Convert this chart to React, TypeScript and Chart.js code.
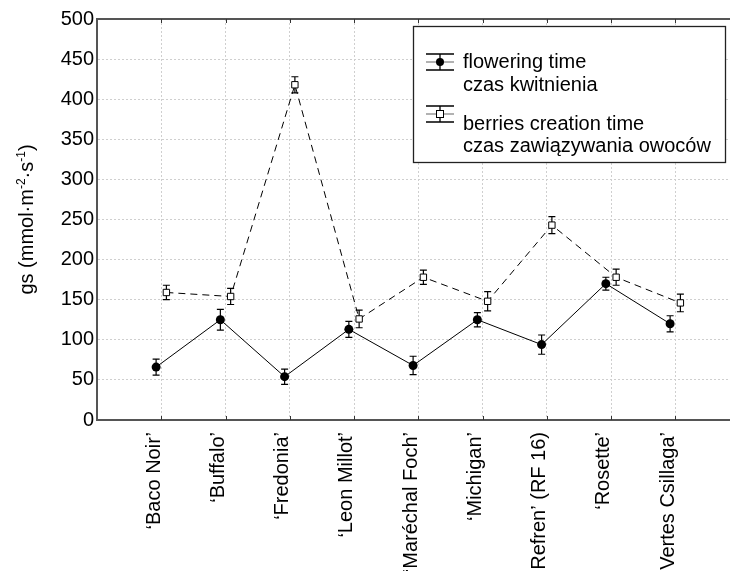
import React, { useEffect, useRef } from "react";
import { Chart, registerables } from "chart.js";

Chart.register(...registerables);

const categories = [
  "‘Baco Noir’",
  "‘Buffalo’",
  "‘Fredonia’",
  "‘Leon Millot’",
  "‘Maréchal Foch’",
  "‘Michigan’",
  "‘Refren’ (RF 16)",
  "‘Rosette’",
  "‘Vertes Csillaga’",
];
const flowering = [66, 125, 54, 113, 68, 125, 94, 170, 120];
const floweringErr = [10, 13, 9.5, 10, 11.5, 9, 12, 8, 10];
const berries = [159, 154, 418, 126, 178, 148, 243, 178, 146];
const berriesErr = [9, 10, 10, 11, 9, 12, 10.5, 10, 11];
const yTicks = [0, 50, 100, 150, 200, 250, 300, 350, 400, 450, 500];
const legendLines = [
  ["flowering time", "czas kwitnienia"],
  ["berries creation time", "czas zawiązywania owoców"],
];

const FONT = "'Liberation Sans', Arial, sans-serif";
const AXIS_COLOR = "#555555";
const LABEL_SHIFT = 0.11;

const errorBarPlugin = {
  id: "errorBars",
  beforeDatasetsDraw(chart: any) {
    const ctx = chart.ctx;
    const ys = chart.scales.y;
    chart.data.datasets.forEach((ds: any, di: number) => {
      const meta = chart.getDatasetMeta(di);
      const errs = ds.errors as number[];
      meta.data.forEach((pt: any, i: number) => {
        const v = ds.data[i].y;
        const top = ys.getPixelForValue(v + errs[i]);
        const bot = ys.getPixelForValue(v - errs[i]);
        const x = pt.x;
        ctx.save();
        ctx.strokeStyle = "#000";
        ctx.lineWidth = 1.2;
        ctx.beginPath();
        ctx.moveTo(x, top);
        ctx.lineTo(x, bot);
        ctx.moveTo(x - 3.5, top);
        ctx.lineTo(x + 3.5, top);
        ctx.moveTo(x - 3.5, bot);
        ctx.lineTo(x + 3.5, bot);
        ctx.stroke();
        ctx.restore();
      });
    });
  },
};

const framePlugin = {
  id: "frame",
  afterDraw(chart: any) {
    const ctx = chart.ctx;
    const { left, right, top, bottom } = chart.chartArea;
    const xs = chart.scales.x;
    ctx.save();
    // top border
    ctx.strokeStyle = AXIS_COLOR;
    ctx.lineWidth = 2;
    ctx.beginPath();
    ctx.moveTo(left - 1, top);
    ctx.lineTo(right, top);
    ctx.stroke();
    // inner ticks
    ctx.lineWidth = 1;
    ctx.strokeStyle = "#333";
    ctx.beginPath();
    categories.forEach((_, i) => {
      const x = Math.round(xs.getPixelForValue(i)) + 0.5;
      ctx.moveTo(x, top);
      ctx.lineTo(x, top + 4);
      ctx.moveTo(x, bottom);
      ctx.lineTo(x, bottom - 4);
    });
    ctx.stroke();

    // y axis title with superscripts
    ctx.save();
    ctx.translate(33, (top + bottom) / 2);
    ctx.rotate(-Math.PI / 2);
    ctx.fillStyle = "#000";
    ctx.textBaseline = "alphabetic";
    ctx.textAlign = "left";
    const segs: [string, boolean][] = [
      ["gs (mmol·m", false],
      ["-2", true],
      ["·s", false],
      ["-1", true],
      [")", false],
    ];
    const mainFont = `20px ${FONT}`;
    const supFont = `12px ${FONT}`;
    let total = 0;
    segs.forEach(([t, sup]) => {
      ctx.font = sup ? supFont : mainFont;
      total += ctx.measureText(t).width;
    });
    let cx = -total / 2;
    segs.forEach(([t, sup]) => {
      ctx.font = sup ? supFont : mainFont;
      ctx.fillText(t, cx, sup ? -8 : 0);
      cx += ctx.measureText(t).width;
    });
    ctx.restore();

    // legend
    const bx = 413, by = 26, bw = 312, bh = 136;
    ctx.fillStyle = "#fff";
    ctx.fillRect(bx, by, bw, bh);
    ctx.strokeStyle = "#222";
    ctx.lineWidth = 1.3;
    ctx.strokeRect(bx + 0.5, by + 0.5, bw, bh);

    const drawSym = (cy: number, filled: boolean) => {
      const x0 = 426, x1 = 454, xm = 440;
      ctx.strokeStyle = "#000";
      ctx.lineWidth = 1.3;
      ctx.beginPath();
      ctx.moveTo(x0, cy - 8);
      ctx.lineTo(x1, cy - 8);
      ctx.moveTo(x0, cy + 8);
      ctx.lineTo(x1, cy + 8);
      ctx.moveTo(xm, cy - 8);
      ctx.lineTo(xm, cy + 8);
      ctx.stroke();
      ctx.strokeStyle = "#888";
      ctx.beginPath();
      ctx.moveTo(x0, cy);
      ctx.lineTo(x1, cy);
      ctx.stroke();
      if (filled) {
        ctx.fillStyle = "#000";
        ctx.beginPath();
        ctx.arc(xm, cy, 4, 0, Math.PI * 2);
        ctx.fill();
      } else {
        ctx.fillStyle = "#fff";
        ctx.fillRect(xm - 3.5, cy - 3.5, 7, 7);
        ctx.strokeStyle = "#000";
        ctx.lineWidth = 1;
        ctx.strokeRect(xm - 3.5, cy - 3.5, 7, 7);
      }
    };
    drawSym(62, true);
    drawSym(114, false);
    ctx.fillStyle = "#000";
    ctx.font = `20px ${FONT}`;
    ctx.textAlign = "left";
    ctx.textBaseline = "alphabetic";
    ctx.fillText(legendLines[0][0], 463, 68);
    ctx.fillText(legendLines[0][1], 463, 91);
    ctx.fillText(legendLines[1][0], 463, 130);
    ctx.fillText(legendLines[1][1], 463, 152);
    ctx.restore();
  },
};

export default function App() {
  const ref = useRef<HTMLCanvasElement>(null);
  useEffect(() => {
    if (!ref.current) return;
    const chart = new Chart(ref.current, {
      type: "line",
      data: {
        datasets: [
          {
            label: "flowering time",
            data: flowering.map((v, i) => ({ x: i - 0.08, y: v })),
            errors: floweringErr,
            borderColor: "#000",
            borderWidth: 1,
            backgroundColor: "#000",
            pointStyle: "circle",
            pointRadius: 4.5,
            pointBackgroundColor: "#000",
            pointBorderColor: "#000",
            pointBorderWidth: 0,
            tension: 0,
          } as any,
          {
            label: "berries creation time",
            data: berries.map((v, i) => ({ x: i + 0.08, y: v })),
            errors: berriesErr,
            borderColor: "#000",
            borderWidth: 1,
            borderDash: [7, 5],
            pointStyle: "rect",
            pointRadius: 4.5,
            pointBackgroundColor: "#fff",
            pointBorderColor: "#000",
            pointBorderWidth: 1,
            tension: 0,
          } as any,
        ],
      },
      options: {
        responsive: false,
        animation: false,
        events: [],
        layout: { padding: { top: 19, right: 1, left: 0, bottom: 0 } },
        plugins: {
          legend: { display: false },
          tooltip: { enabled: false },
          title: { display: false },
        },
        scales: {
          x: {
            type: "linear",
            position: "bottom",
            min: -1,
            max: 9,
            afterFit: (s: any) => {
              s.height = 0;
              s.paddingLeft = 0;
              s.paddingRight = 0;
            },
            afterBuildTicks: (s: any) => {
              s.ticks = [-1, 0, 1, 2, 3, 4, 5, 6, 7, 8, 9].map((v) => ({ value: v }));
            },
            ticks: { display: false },
            grid: {
              drawTicks: false,
              color: (c: any) =>
                c.tick && (c.tick.value === -1 || c.tick.value === 9)
                  ? "rgba(0,0,0,0)"
                  : "#cfcfcf",
              lineWidth: 1,
            },
            border: { display: true, color: AXIS_COLOR, width: 2, dash: [2, 2] },
          },
          xLabels: {
            type: "linear",
            position: "bottom",
            min: -1 + LABEL_SHIFT,
            max: 9 + LABEL_SHIFT,
            afterFit: (s: any) => {
              s.height = 151;
              s.paddingLeft = 0;
              s.paddingRight = 0;
            },
            afterBuildTicks: (s: any) => {
              s.ticks = categories.map((_, i) => ({ value: i }));
            },
            ticks: {
              autoSkip: false,
              maxRotation: 90,
              minRotation: 90,
              padding: 12,
              color: "#000",
              font: { family: FONT, size: 20 },
              callback: (v: any) => categories[v] ?? "",
            },
            grid: { display: false, drawTicks: false },
            border: { display: false },
          },
          y: {
            type: "linear",
            min: 0,
            max: 500,
            afterFit: (s: any) => {
              s.width = 97;
              s.paddingTop = 0;
              s.paddingBottom = 0;
            },
            afterBuildTicks: (s: any) => {
              s.ticks = yTicks.map((v) => ({ value: v }));
            },
            ticks: {
              padding: 3,
              color: "#000",
              font: { family: FONT, size: 20 },
            },
            grid: {
              drawTicks: false,
              color: (c: any) =>
                c.tick && (c.tick.value === 0 || c.tick.value === 500)
                  ? "rgba(0,0,0,0)"
                  : "#cfcfcf",
              lineWidth: 1,
            },
            border: { display: true, color: AXIS_COLOR, width: 2, dash: [2, 2] },
          },
        },
      } as any,
      plugins: [errorBarPlugin, framePlugin],
    });
    return () => chart.destroy();
  }, []);

  return (
    <div
      style={{
        position: "fixed",
        left: 0,
        top: 0,
        width: 730,
        height: 571,
        overflow: "hidden",
        background: "#fff",
      }}
    >
      <canvas ref={ref} width={745} height={571} style={{ display: "block" }} />
    </div>
  );
}
